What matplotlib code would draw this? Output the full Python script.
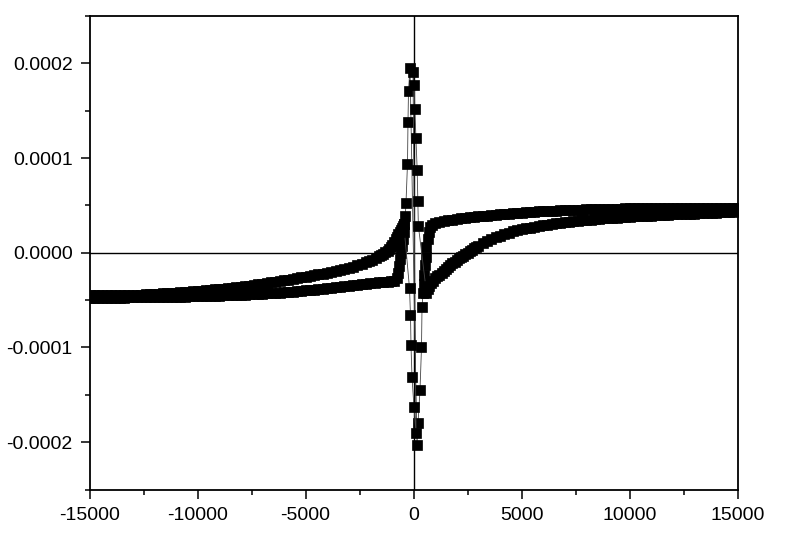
import matplotlib
matplotlib.use("Agg")
import matplotlib.pyplot as plt
from matplotlib.ticker import MultipleLocator

plt.rcParams['font.family'] = ['Liberation Sans', 'DejaVu Sans']
plt.rcParams['axes.unicode_minus'] = False

# ---- data (field in Oe, signal) ----
# branch A: outer bands (lower-left, upper-right) with spike near zero
branch_a_x = [
    -15000, -14800, -14600, -14400, -14200, -14000, -13800, -13600, -13400, -13200,
    -13000, -12800, -12600, -12400, -12200, -12000, -11800, -11600, -11400, -11200,
    -11000, -10800, -10600, -10400, -10200, -10000, -9800, -9600, -9400, -9200,
    -9000, -8800, -8600, -8400, -8200, -8000, -7800, -7600, -7400, -7200,
    -7000, -6800, -6600, -6400, -6200, -6000, -5800, -5600, -5400, -5200,
    -5000, -4800, -4600, -4400, -4200, -4000, -3800, -3600, -3400, -3200,
    -3000, -2800, -2600, -2400, -2200, -2000, -1800, -1600, -1400, -1200,
    -1050, -900,
    -760, -700, -660, -620, -580, -540, -500, -460, -420, -380, -347,
    -278, -255, -231, -162,
    162, 208, 301, 370, 394,
    440, 470, 500, 530, 560, 600, 650, 710, 780, 860,
    1000, 1200, 1400, 1600, 1800, 2000, 2200, 2400, 2600, 2800,
    3000, 3200, 3400, 3600, 3800, 4000, 4200, 4400, 4600, 4800,
    5000, 5200, 5400, 5600, 5800, 6000, 6200, 6400, 6600, 6800,
    7000, 7200, 7400, 7600, 7800, 8000, 8200, 8400, 8600, 8800,
    9000, 9200, 9400, 9600, 9800, 10000, 10200, 10400, 10600, 10800,
    11000, 11200, 11400, 11600, 11800, 12000, 12200, 12400, 12600, 12800,
    13000, 13200, 13400, 13600, 13800, 14000, 14200, 14400, 14600, 14800,
    15000,
]
branch_a_y = [
    -4.76e-5, -4.76e-5, -4.76e-5, -4.75e-5, -4.75e-5, -4.74e-5, -4.74e-5, -4.73e-5, -4.73e-5, -4.72e-5,
    -4.72e-5, -4.71e-5, -4.71e-5, -4.70e-5, -4.69e-5, -4.68e-5, -4.68e-5, -4.67e-5, -4.66e-5, -4.65e-5,
    -4.64e-5, -4.63e-5, -4.62e-5, -4.61e-5, -4.60e-5, -4.58e-5, -4.57e-5, -4.56e-5, -4.55e-5, -4.53e-5,
    -4.52e-5, -4.50e-5, -4.49e-5, -4.47e-5, -4.46e-5, -4.44e-5, -4.42e-5, -4.40e-5, -4.38e-5, -4.35e-5,
    -4.33e-5, -4.30e-5, -4.27e-5, -4.24e-5, -4.21e-5, -4.17e-5, -4.13e-5, -4.10e-5, -4.06e-5, -4.02e-5,
    -3.98e-5, -3.93e-5, -3.89e-5, -3.84e-5, -3.79e-5, -3.74e-5, -3.69e-5, -3.64e-5, -3.59e-5, -3.54e-5,
    -3.49e-5, -3.44e-5, -3.39e-5, -3.34e-5, -3.29e-5, -3.24e-5, -3.19e-5, -3.14e-5, -3.09e-5, -3.04e-5,
    -2.99e-5, -2.95e-5,
    -2.70e-5, -2.10e-5, -1.40e-5, -0.70e-5, 0.00e-5, 0.70e-5, 1.40e-5, 2.20e-5, 3.00e-5, 3.90e-5, 5.29e-5,
    9.41e-5, 13.85e-5, 17.12e-5, 19.55e-5,
    -20.30e-5, -17.97e-5, -14.53e-5, -9.99e-5, -5.76e-5,
    -4.30e-5, -3.30e-5, -2.30e-5, -1.30e-5, -0.40e-5, 0.60e-5, 1.50e-5, 2.20e-5, 2.70e-5, 2.95e-5,
    3.15e-5, 3.24e-5, 3.33e-5, 3.42e-5, 3.49e-5, 3.56e-5, 3.62e-5, 3.68e-5, 3.73e-5, 3.78e-5,
    3.83e-5, 3.88e-5, 3.93e-5, 3.98e-5, 4.02e-5, 4.06e-5, 4.10e-5, 4.14e-5, 4.18e-5, 4.22e-5,
    4.25e-5, 4.28e-5, 4.31e-5, 4.34e-5, 4.37e-5, 4.40e-5, 4.42e-5, 4.44e-5, 4.46e-5, 4.48e-5,
    4.50e-5, 4.52e-5, 4.53e-5, 4.55e-5, 4.56e-5, 4.58e-5, 4.59e-5, 4.61e-5, 4.62e-5, 4.63e-5,
    4.64e-5, 4.65e-5, 4.66e-5, 4.67e-5, 4.68e-5, 4.69e-5, 4.69e-5, 4.70e-5, 4.70e-5, 4.71e-5,
    4.71e-5, 4.72e-5, 4.72e-5, 4.73e-5, 4.73e-5, 4.74e-5, 4.74e-5, 4.74e-5, 4.74e-5, 4.75e-5,
    4.75e-5, 4.75e-5, 4.75e-5, 4.76e-5, 4.76e-5, 4.76e-5, 4.76e-5, 4.77e-5, 4.77e-5, 4.77e-5,
    4.77e-5,
]

# branch B: inner bands (upper-left, lower-right) with spike near zero
branch_b_x = [
    -15000, -14800, -14600, -14400, -14200, -14000, -13800, -13600, -13400, -13200,
    -13000, -12800, -12600, -12400, -12200, -12000, -11800, -11600, -11400, -11200,
    -11000, -10800, -10600, -10400, -10200, -10000, -9800, -9600, -9400, -9200,
    -9000, -8800, -8600, -8400, -8200, -8000, -7800, -7600, -7400, -7200,
    -7000, -6800, -6600, -6400, -6200, -6000, -5800, -5600, -5400, -5200,
    -5000, -4800, -4600, -4400, -4200, -4000, -3800, -3600, -3400, -3200,
    -3000, -2800, -2600, -2400, -2200, -2050, -1900, -1750, -1600, -1500,
    -1400, -1300, -1200, -1120, -1050, -980, -900, -830, -760, -700,
    -640, -580, -530, -490, -450,
    -185, -139, -116, -69, 23, 116,
    -23, 35, 60, 110, 170, 200, 225,
    600, 650, 700, 800, 900, 1000, 1100, 1200, 1300, 1400,
    1500, 1600, 1700, 1800, 1900, 2000, 2100, 2200, 2300, 2400,
    2500, 2600, 2700, 2800, 2900, 3000, 3200, 3400, 3600, 3800,
    4000, 4200, 4400, 4600, 4800, 5000, 5200, 5400, 5600, 5800,
    6000, 6200, 6400, 6600, 6800, 7000, 7200, 7400, 7600, 7800,
    8000, 8200, 8400, 8600, 8800, 9000, 9200, 9400, 9600, 9800,
    10000, 10200, 10400, 10600, 10800, 11000, 11200, 11400, 11600, 11800,
    12000, 12200, 12400, 12600, 12800, 13000, 13200, 13400, 13600, 13800,
    14000, 14200, 14400, 14600, 14800, 15000,
]
branch_b_y = [
    -4.49e-5, -4.49e-5, -4.48e-5, -4.48e-5, -4.47e-5, -4.47e-5, -4.46e-5, -4.46e-5, -4.45e-5, -4.45e-5,
    -4.44e-5, -4.43e-5, -4.41e-5, -4.39e-5, -4.37e-5, -4.35e-5, -4.32e-5, -4.29e-5, -4.26e-5, -4.23e-5,
    -4.20e-5, -4.18e-5, -4.15e-5, -4.11e-5, -4.07e-5, -4.03e-5, -3.99e-5, -3.95e-5, -3.91e-5, -3.87e-5,
    -3.82e-5, -3.78e-5, -3.73e-5, -3.69e-5, -3.64e-5, -3.58e-5, -3.52e-5, -3.46e-5, -3.40e-5, -3.34e-5,
    -3.27e-5, -3.20e-5, -3.13e-5, -3.06e-5, -2.99e-5, -2.92e-5, -2.84e-5, -2.76e-5, -2.68e-5, -2.60e-5,
    -2.52e-5, -2.44e-5, -2.36e-5, -2.28e-5, -2.20e-5, -2.12e-5, -2.04e-5, -1.95e-5, -1.86e-5, -1.75e-5,
    -1.63e-5, -1.49e-5, -1.33e-5, -1.17e-5, -1.01e-5, -0.88e-5, -0.74e-5, -0.56e-5, -0.38e-5, -0.25e-5,
    -0.12e-5, 0.04e-5, 0.22e-5, 0.40e-5, 0.60e-5, 0.84e-5, 1.10e-5, 1.40e-5, 1.70e-5, 1.95e-5,
    2.20e-5, 2.42e-5, 2.60e-5, 2.80e-5, 3.00e-5,
    -3.75e-5, -6.61e-5, -9.78e-5, -13.16e-5, -16.33e-5, -19.03e-5,
    19.13e-5, 17.76e-5, 15.22e-5, 12.16e-5, 8.77e-5, 5.50e-5, 2.85e-5,
    -4.20e-5, -3.85e-5, -3.55e-5, -3.20e-5, -2.95e-5, -2.70e-5, -2.50e-5, -2.30e-5, -2.10e-5, -1.90e-5,
    -1.70e-5, -1.50e-5, -1.30e-5, -1.12e-5, -0.95e-5, -0.77e-5, -0.60e-5, -0.45e-5, -0.30e-5, -0.15e-5,
    0.00e-5, 0.15e-5, 0.30e-5, 0.45e-5, 0.60e-5, 0.74e-5, 1.00e-5, 1.24e-5, 1.45e-5, 1.65e-5,
    1.82e-5, 1.98e-5, 2.12e-5, 2.25e-5, 2.36e-5, 2.47e-5, 2.57e-5, 2.66e-5, 2.74e-5, 2.82e-5,
    2.89e-5, 2.96e-5, 3.03e-5, 3.09e-5, 3.15e-5, 3.20e-5, 3.26e-5, 3.31e-5, 3.36e-5, 3.41e-5,
    3.46e-5, 3.50e-5, 3.54e-5, 3.58e-5, 3.62e-5, 3.65e-5, 3.68e-5, 3.71e-5, 3.74e-5, 3.77e-5,
    3.80e-5, 3.83e-5, 3.86e-5, 3.88e-5, 3.91e-5, 3.93e-5, 3.96e-5, 3.98e-5, 4.00e-5, 4.02e-5,
    4.04e-5, 4.06e-5, 4.08e-5, 4.10e-5, 4.12e-5, 4.14e-5, 4.16e-5, 4.18e-5, 4.20e-5, 4.22e-5,
    4.24e-5, 4.27e-5, 4.29e-5, 4.32e-5, 4.35e-5, 4.38e-5,
]

x_ticks = [-15000, -10000, -5000, 0, 5000, 10000, 15000]
x_tick_labels = ['-15000', '-10000', '-5000', '0', '5000', '10000', '15000']
y_ticks = [-0.0002, -0.0001, 0.0, 0.0001, 0.0002]
y_tick_labels = ['-0.0002', '-0.0001', '0.0000', '0.0001', '0.0002']

# ---- figure ----
fig = plt.figure(figsize=(8.0, 5.39), dpi=100)
ax = fig.add_axes([89.5 / 800, (539 - 489.5) / 539, 648 / 800, (489.5 - 16) / 539])

ax.axhline(0, color='black', lw=1.0, zorder=1)
ax.axvline(0, color='black', lw=1.0, zorder=1)

for xs, ys in [(branch_a_x, branch_a_y), (branch_b_x, branch_b_y)]:
    ax.plot(xs, ys, color='#444444', lw=0.6, marker='s', ms=7.6,
            mfc='black', mec='black', mew=0.5, zorder=3)

ax.set_xlim(-15000, 15000)
ax.set_ylim(-0.00025, 0.00025)
ax.set_xticks(x_ticks)
ax.set_xticklabels(x_tick_labels)
ax.set_yticks(y_ticks)
ax.set_yticklabels(y_tick_labels)
ax.xaxis.set_minor_locator(MultipleLocator(2500))
ax.yaxis.set_minor_locator(MultipleLocator(0.00005))

ax.tick_params(which='major', direction='out', length=6.7, width=1.1, labelsize=14,
               color='black', labelcolor='black')
ax.tick_params(axis='x', which='major', pad=6.2)
ax.tick_params(axis='y', which='major', pad=5.4)
ax.tick_params(which='minor', direction='out', length=3.4, width=1.1)
ax.tick_params(top=False, right=False, which='both')

for sp in ax.spines.values():
    sp.set_linewidth(1.3)
    sp.set_color('black')

fig.savefig('out.png', dpi=100)
